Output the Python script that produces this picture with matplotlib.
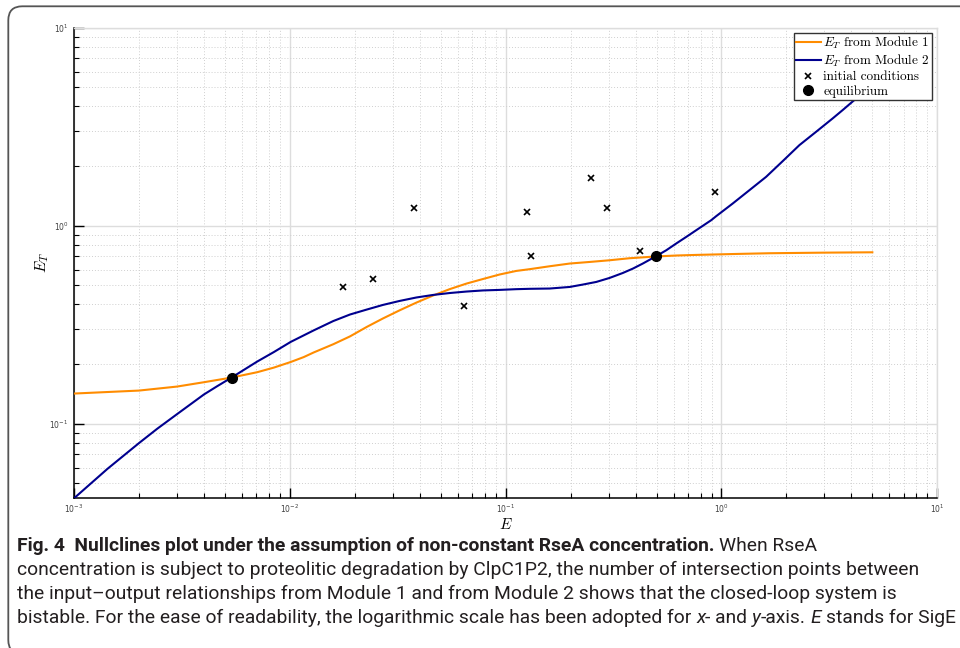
import matplotlib

matplotlib.use("Agg")

import matplotlib.pyplot as plt
from matplotlib import font_manager
from matplotlib.font_manager import FontProperties
from matplotlib.patches import FancyBboxPatch
from matplotlib.transforms import IdentityTransform

plt.rcParams["font.family"] = "sans-serif"
plt.rcParams["font.sans-serif"] = ["DejaVu Sans"]
plt.rcParams["mathtext.fontset"] = "dejavusans"

W, H = 960, 648

# E_T nullcline from Module 1 (orange) and Module 2 (blue), sampled along E
E_MOD1 = [0.001, 0.002, 0.003, 0.004, 0.00537, 0.00706, 0.00843, 0.0101, 0.0116,
          0.0129, 0.0159, 0.019, 0.0227, 0.027, 0.0323, 0.0386, 0.0461, 0.055,
          0.0658, 0.0785, 0.0938, 0.112, 0.129, 0.16, 0.198, 0.245, 0.303, 0.375,
          0.495, 0.617, 0.764, 1.17, 1.67, 3.0, 5.0]
ET_MOD1 = [0.142, 0.147, 0.154, 0.162, 0.171, 0.182, 0.192, 0.205, 0.217,
           0.229, 0.252, 0.276, 0.308, 0.340, 0.374, 0.409, 0.444, 0.478,
           0.510, 0.538, 0.567, 0.591, 0.603, 0.624, 0.644, 0.656, 0.669, 0.685,
           0.699, 0.707, 0.712, 0.720, 0.726, 0.731, 0.734]

E_MOD2 = [0.001, 0.00143, 0.002, 0.00243, 0.00301, 0.004, 0.0046, 0.00537, 0.00706,
          0.00843, 0.0101, 0.0129, 0.0159, 0.019, 0.0227, 0.027, 0.0323, 0.0386,
          0.0461, 0.055, 0.0658, 0.0785, 0.0938, 0.112, 0.129, 0.16, 0.198, 0.228,
          0.263, 0.303, 0.349, 0.389, 0.432, 0.495, 0.555, 0.617, 0.687, 0.764,
          0.896, 0.945, 1.128, 1.348, 1.61, 1.922, 2.297, 2.744, 3.276, 3.644,
          4.128, 5.0]
ET_MOD2 = [0.042, 0.0592, 0.0798, 0.0943, 0.112, 0.1405, 0.1545, 0.171, 0.206,
           0.230, 0.259, 0.296, 0.330, 0.356, 0.377, 0.398, 0.417, 0.434,
           0.447, 0.457, 0.465, 0.471, 0.474, 0.478, 0.480, 0.4816, 0.4905, 0.5044,
           0.520, 0.5447, 0.577, 0.6075, 0.644, 0.699, 0.7517, 0.813, 0.878, 0.949,
           1.066, 1.117, 1.295, 1.512, 1.765, 2.119, 2.553, 2.980, 3.483, 3.837,
           4.311, 5.15]

E_INIT = [0.0177, 0.0243, 0.0376, 0.0641, 0.126, 0.1305, 0.249, 0.294, 0.420, 0.931]
ET_INIT = [0.490, 0.538, 1.222, 0.392, 1.166, 0.699, 1.732, 1.222, 0.749, 1.482]

E_EQ = [0.00537, 0.495]
ET_EQ = [0.171, 0.699]

LABELS = [r"$E_T$ from Module 1", r"$E_T$ from Module 2",
          "initial conditions", "equilibrium"]

CAPTION = [
    [("Fig. 4  Nullclines plot under the assumption of non-constant RseA concentration.",
      "bold", "normal", False),
     ("When RseA", "normal", "normal", True)],
    [("concentration is subject to proteolitic degradation by ClpC1P2, the number of "
      "intersection points between", "normal", "normal", False)],
    [("the input\u2013output relationships from Module 1 and from Module 2 shows that "
      "the closed-loop system is", "normal", "normal", False)],
    [("bistable. For the ease of readability, the logarithmic scale has been adopted for",
      "normal", "normal", False),
     ("x", "normal", "italic", True),
     ("- and", "normal", "normal", False),
     ("y", "normal", "italic", True),
     ("-axis.", "normal", "normal", False),
     ("E", "normal", "italic", True),
     ("stands for SigE", "normal", "normal", True)],
]

ORANGE = "#ff8c00"
NAVY = "#00008f"


def caption_font():
    names = {f.name for f in font_manager.fontManager.ttflist}
    for fam in ("Liberation Sans Narrow", "Roboto", "Liberation Sans"):
        if fam in names:
            return fam
    return "DejaVu Sans"


def draw_caption(fig, family):
    r = fig.canvas.get_renderer()

    def width(s, size, weight="normal", style="normal"):
        t = fig.text(0, 0, s, fontsize=size, family=family, weight=weight, style=style)
        w = t.get_window_extent(r).width
        t.remove()
        return w

    def line_width(runs, size):
        sp = width("a a", size) - width("aa", size)
        return sum(width(s, size, wt, st) + (sp if gap else 0) for s, wt, st, gap in runs)

    # size the caption so the last line spans the full text block
    size = 10 * (956 - 17) / line_width(CAPTION[-1], 10)
    sp = width("a a", size) - width("aa", size)
    for i, runs in enumerate(CAPTION):
        x = 17.0
        y = 551 + 24 * i
        for s, wt, st, gap in runs:
            if gap:
                x += sp
            t = fig.text(x / W, 1 - y / H, s, fontsize=size, family=family,
                         weight=wt, style=st, va="baseline", ha="left",
                         color="#231f20")
            x += t.get_window_extent(r).width


fig = plt.figure(figsize=(W / 100, H / 100), dpi=100)
ax = fig.add_axes([74 / W, 1 - 498.3 / H, (937.3 - 74) / W, (498.3 - 27.7) / H])

ax.plot(E_MOD1, ET_MOD1, color=ORANGE, lw=1.5, label=LABELS[0], zorder=3)
ax.plot(E_MOD2, ET_MOD2, color=NAVY, lw=1.5, label=LABELS[1], zorder=3)
ax.plot(E_INIT, ET_INIT, "x", color="black", ms=4, mew=1.2, label=LABELS[2], zorder=4)
ax.plot(E_EQ, ET_EQ, "o", color="black", ms=7, label=LABELS[3], zorder=5)

ax.set_xscale("log")
ax.set_yscale("log")
ax.set_xlim(1e-3, 1e1)
ax.set_ylim(0.042, 1e1)

ax.grid(True, which="major", color="#dddddd", lw=1.0, ls="-")
ax.grid(True, which="minor", color="#cfcfcf", lw=0.7, ls=(0, (1, 2)))
ax.set_axisbelow(True)

for side in ("top", "right"):
    ax.spines[side].set_color("#dddddd")
    ax.spines[side].set_linewidth(1.0)
for side in ("left", "bottom"):
    ax.spines[side].set_color("black")
    ax.spines[side].set_linewidth(1.1)

ax.tick_params(which="both", direction="in", top=False, right=False,
               color="black", labelcolor="#404040", labelsize=5.5)
ax.tick_params(which="major", length=7, width=1.0, pad=4)
ax.tick_params(which="minor", length=3.5, width=0.8)
ax.tick_params(axis="x", which="major", pad=3)

ax.set_xlabel(r"$E$", fontsize=11, math_fontfamily="cm")
ax.set_ylabel(r"$E_T$", fontsize=11, math_fontfamily="cm")
ax.xaxis.set_label_coords(0.5, -0.056)
ax.xaxis.label.set_va("center")
ax.yaxis.set_label_coords(-0.037, 0.5)
ax.yaxis.label.set_va("center")

leg = ax.legend(loc="upper right",
                prop=FontProperties(family="cmr10", size=9.5, math_fontfamily="cm"),
                frameon=True, fancybox=False, framealpha=1, edgecolor="#333333",
                borderpad=0.15, labelspacing=0.14, handlelength=1.9,
                handletextpad=0.2, borderaxespad=0.4)
leg.get_frame().set_linewidth(1.0)

# rounded page frame around figure and caption
fig.add_artist(FancyBboxPatch((8.3, -6), 1000, H - 6.3 + 6,
                              boxstyle="round,pad=0,rounding_size=14",
                              transform=IdentityTransform(), fill=False,
                              ec="#555555", lw=1.3))

draw_caption(fig, caption_font())

fig.savefig("out.png", dpi=100)
